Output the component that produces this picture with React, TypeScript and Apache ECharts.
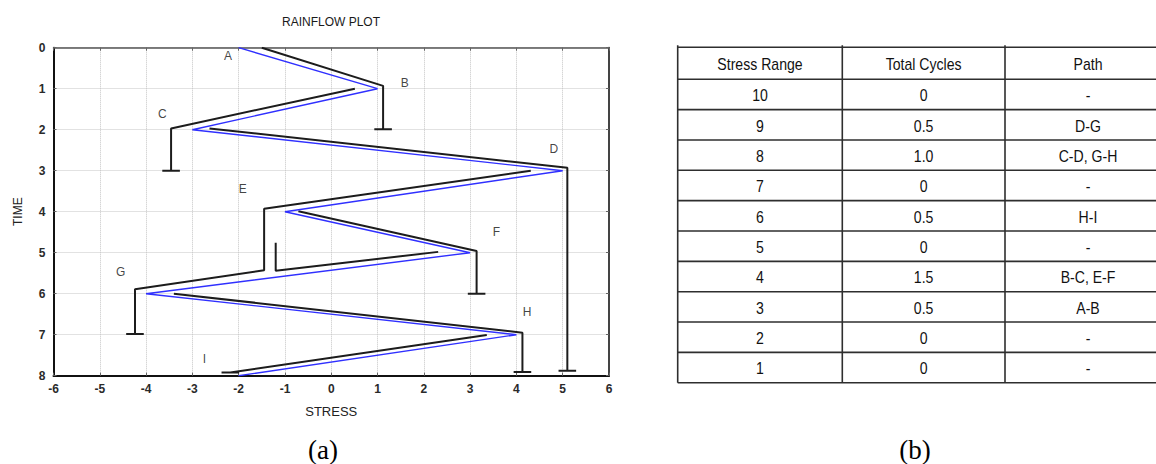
import React, { useEffect, useRef } from "react";
import * as echarts from "echarts";

// Stress history: one reversal (A–I) per time step
const reversalNames = ["A", "B", "C", "D", "E", "F", "G", "H", "I"];
const stress = [-2, 1, -3, 5, -1, 3, -4, 4, -2];
const time = [0, 1, 2, 3, 4, 5, 6, 7, 8];

// Where each reversal letter sits, [stress, time]
const labelStress = [-2.23, 1.59, -3.65, 4.81, -1.91, 3.57, -4.55, 4.23, -2.74];
const labelTime = [0.2, 0.86, 1.61, 2.47, 3.45, 4.5, 5.46, 6.45, 7.6];

// Rain-flow paths as [stress, time] vertices; the last vertex is where the drop ends (capped)
const flowAB = [[-1.5, 0], [1.12, 0.93], [1.12, 1.99]];
const flowBC = [[0.51, 1.0], [-3.46, 1.97], [-3.46, 3.0]];
const flowCD = [[-2.63, 1.97], [5.1, 2.93], [5.1, 7.88]];
const flowDG = [[4.31, 3.0], [-1.45, 3.93], [-1.45, 5.43], [-4.24, 5.89], [-4.24, 6.98]];
const flowEF = [[-0.71, 3.99], [3.14, 4.96], [3.14, 6.0]];
const flowGH = [[-3.4, 6.0], [4.13, 6.95], [4.13, 7.91]];
const flowHI = [[3.36, 7.01], [-2.18, 7.92]];
// Flow from F that stops where it meets the drip from E
const flowFE = [[2.31, 4.98], [-1.2, 5.44], [-1.2, 4.76]];

const cappedFlows = [flowAB, flowBC, flowCD, flowDG, flowEF, flowGH, flowHI];
const stoppedFlows = [flowFE];

// Cycle-count table
const tableHeaders = ["Stress Range", "Total Cycles", "Path"];
const stressRanges = ["10", "9", "8", "7", "6", "5", "4", "3", "2", "1"];
const totalCycles = ["0", "0.5", "1.0", "0", "0.5", "0", "1.5", "0.5", "0", "0"];
const cyclePaths = ["-", "D-G", "C-D, G-H", "-", "H-I", "-", "B-C, E-F", "A-B", "-", "-"];

const SANS = "'Liberation Sans', Arial, Helvetica, sans-serif";
const SERIF = "'Liberation Serif', 'Times New Roman', serif";
const CAP_HALF = 0.19;

function withCap(pts: number[][]) {
  const [x, y] = pts[pts.length - 1];
  return [...pts, [x - CAP_HALF, y], [x + CAP_HALF, y]];
}

function buildTable() {
  const cols = [677.7, 842.3, 1005, 1171];
  const top = 47.3;
  const headerBottom = 79.3;
  const rowH = 30.34;
  const els: any[] = [];
  const stroke = { stroke: "#2e2e2e", lineWidth: 1.6 };
  const rows = stressRanges.length;
  const bottom = headerBottom + rows * rowH;
  const hLines = [top, headerBottom];
  for (let i = 1; i <= rows; i++) hLines.push(headerBottom + i * rowH);
  hLines.forEach((y) =>
    els.push({ type: "line", shape: { x1: cols[0], y1: y, x2: cols[3], y2: y }, style: stroke })
  );
  cols.forEach((x) =>
    els.push({ type: "line", shape: { x1: x, y1: top - 2, x2: x, y2: bottom }, style: stroke })
  );
  const cell = (text: string, cx: number, cy: number) => ({
    type: "text",
    x: cx,
    y: cy,
    scaleX: 0.88,
    style: {
      text,
      fontSize: 16,
      fontFamily: SANS,
      fill: "#111",
      textAlign: "center",
      align: "center",
      textVerticalAlign: "middle",
      verticalAlign: "middle",
    },
  });
  const centers = [0, 1, 2].map((c) => (cols[c] + cols[c + 1]) / 2);
  tableHeaders.forEach((h, c) => els.push(cell(h, centers[c], (top + headerBottom) / 2 + 1)));
  for (let r = 0; r < rows; r++) {
    const cy = headerBottom + (r + 0.5) * rowH + 1;
    els.push(cell(stressRanges[r], centers[0], cy));
    els.push(cell(totalCycles[r], centers[1], cy));
    els.push(cell(cyclePaths[r], centers[2], cy));
  }
  return els;
}

export default function App() {
  const ref = useRef<HTMLDivElement>(null);

  useEffect(() => {
    if (!ref.current) return;
    const chart = echarts.init(ref.current, undefined, { renderer: "svg" });

    const tickLabel = { color: "#2a2a2a", fontSize: 12, fontWeight: "bold" as const, fontFamily: SANS };
    const gridLine = { show: true, lineStyle: { type: "dotted" as const, color: "#c4c4c4", width: 1 } };
    const innerTick = { show: true, inside: true, length: 3, lineStyle: { color: "#666", width: 1 } };

    const flowSeries = [
      ...cappedFlows.map((f) => withCap(f)),
      ...stoppedFlows,
    ].map((data) => ({
      type: "line",
      data,
      symbol: "none",
      silent: true,
      lineStyle: { color: "#1c1c1c", width: 2 },
      z: 3,
    }));

    chart.setOption({
      animation: false,
      grid: { left: 53.5, right: 547, top: 47.7, bottom: 88.3 },
      xAxis: [
        {
          type: "value",
          min: -6,
          max: 6,
          interval: 1,
          position: "bottom",
          axisLine: { show: true, onZero: false, lineStyle: { color: "#111", width: 2 } },
          axisTick: innerTick,
          axisLabel: { ...tickLabel, margin: 7 },
          splitLine: gridLine,
          name: "STRESS",
          nameLocation: "middle",
          nameGap: 29,
          nameTextStyle: { color: "#222", fontSize: 13, fontFamily: SANS },
        },
        {
          type: "value",
          min: -6,
          max: 6,
          interval: 1,
          position: "top",
          axisLine: { show: true, onZero: false, lineStyle: { color: "#555", width: 1.5 } },
          axisTick: innerTick,
          axisLabel: { show: false },
          splitLine: { show: false },
        },
      ],
      yAxis: [
        {
          type: "value",
          min: 0,
          max: 8,
          interval: 1,
          inverse: true,
          position: "left",
          axisLine: { show: true, onZero: false, lineStyle: { color: "#111", width: 2 } },
          axisTick: innerTick,
          axisLabel: { ...tickLabel, margin: 8 },
          splitLine: gridLine,
          name: "TIME",
          nameLocation: "middle",
          nameGap: 30,
          nameRotate: 90,
          nameTextStyle: { color: "#222", fontSize: 12, fontFamily: SANS },
        },
        {
          type: "value",
          min: 0,
          max: 8,
          interval: 1,
          inverse: true,
          position: "right",
          axisLine: { show: true, onZero: false, lineStyle: { color: "#444", width: 2 } },
          axisTick: innerTick,
          axisLabel: { show: false },
          splitLine: { show: false },
        },
      ],
      series: [
        {
          type: "line",
          name: "Stress history",
          data: stress.map((s, i) => [s, time[i]]),
          symbol: "none",
          silent: true,
          lineStyle: { color: "#3030ff", width: 1.4 },
          z: 4,
        },
        ...flowSeries,
        {
          type: "scatter",
          data: reversalNames.map((n, i) => ({ name: n, value: [labelStress[i], labelTime[i]] })),
          symbolSize: 0,
          silent: true,
          label: {
            show: true,
            position: "inside",
            formatter: "{b}",
            color: "#111",
            fontSize: 12,
            fontFamily: SANS,
          },
          z: 5,
        },
      ],
      graphic: [
        {
          type: "text",
          x: 331,
          y: 21.5,
          style: {
            text: "RAINFLOW PLOT",
            fontSize: 12,
            fontFamily: SANS,
            fill: "#1a1a1a",
            textAlign: "center",
            align: "center",
            textVerticalAlign: "middle",
            verticalAlign: "middle",
          },
        },
        ...buildTable(),
        {
          type: "text",
          x: 323,
          y: 450,
          style: {
            text: "(a)",
            fontSize: 27,
            fontFamily: SERIF,
            fill: "#000",
            textAlign: "center",
            align: "center",
            textVerticalAlign: "middle",
            verticalAlign: "middle",
          },
        },
        {
          type: "text",
          x: 915,
          y: 450,
          style: {
            text: "(b)",
            fontSize: 27,
            fontFamily: SERIF,
            fill: "#000",
            textAlign: "center",
            align: "center",
            textVerticalAlign: "middle",
            verticalAlign: "middle",
          },
        },
      ],
    });

    return () => chart.dispose();
  }, []);

  return (
    <div
      ref={ref}
      style={{ position: "fixed", left: 0, top: 0, width: 1156, height: 464, background: "#fff" }}
    />
  );
}
